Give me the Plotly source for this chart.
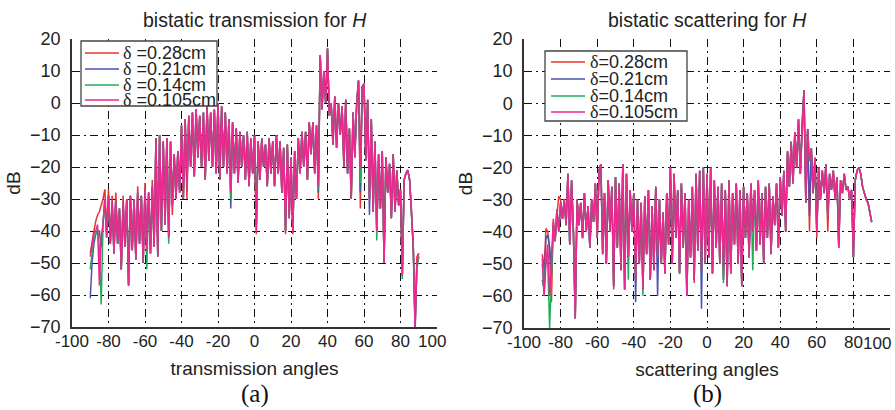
import plotly.graph_objects as go

# ---------------- data ----------------
angles = list(range(-90, 91))
x_ticks = [-100, -80, -60, -40, -20, 0, 20, 40, 60, 80, 100]
x_tick_text = ["-100", "-80", "-60", "-40", "-20", "0", "20", "40", "60", "80", "100"]
y_ticks = [-70, -60, -50, -40, -30, -20, -10, 0, 10, 20]
legend_labels = ["0.28cm", "0.21cm", "0.14cm", "0.105cm"]
series_colors = ["#e8322d", "#4a52b0", "#1fae57", "#ec2790"]

# (a) bistatic transmission, dB
trans_028 = [
    -47, -43, -40, -37, -35, -34, -32, -30, -27, -40,
    -27, -44, -29, -47, -28, -44, -33, -52, -29, -45,
    -30, -57, -29, -46, -30, -49, -26, -44, -29, -50,
    -25, -46, -28, -47, -24, -45, -11, -48, -10, -40,
    -12, -38, -11, -42, -12, -35, -16, -30, -15, -28,
    -7, -30, -5, -30, -4, -20, -3, -23, -2, -17,
    -4, -20, -3, -24, -1, -18, -3, -20, -2, -22,
    0, -24, -1, -20, -3, -22, -5, -28, -6, -22,
    -8, -25, -9, -20, -10, -24, -9, -26, -11, -22,
    -10, -41, -12, -24, -11, -20, -13, -26, -11, -22,
    -12, -26, -10, -22, -12, -28, -14, -41, -13, -36,
    -17, -41, -15, -30, -11, -22, -9, -20, -9, -24,
    -6, -16, -6, -22, -7, -30, 15, -2, 10, 0,
    17, -4, 0, -13, 2, -14, 0, -10, -1, -20,
    1, -22, -8, -30, -3, -17, 0, 7, -33, 5,
    6, -18, 1, -30, -5, -34, -12, -40, -16, -33,
    -15, -50, -17, -28, -19, -36, -16, -34, -21, -32,
    -27, -54, -24, -22, -21, -24, -33, -45, -70, -48,
    -47,
]
trans_021 = [
    -61, -50, -44, -41, -40, -40, -45, -38, -30, -42,
    -29, -44, -31, -47, -30, -44, -33, -52, -31, -45,
    -30, -57, -29, -46, -30, -49, -28, -44, -29, -50,
    -27, -46, -28, -47, -26, -45, -11, -48, -10, -40,
    -12, -38, -11, -42, -12, -32, -16, -30, -15, -28,
    -7, -30, -5, -26, -4, -20, -3, -23, -2, -17,
    -4, -20, -3, -24, -1, -18, -3, -20, -2, -22,
    0, -24, -1, -20, -3, -22, -5, -33, -6, -22,
    -8, -25, -9, -20, -10, -24, -9, -26, -11, -22,
    -10, -38, -12, -24, -11, -20, -13, -26, -11, -22,
    -12, -26, -10, -22, -12, -28, -14, -40, -13, -36,
    -17, -40, -15, -30, -11, -22, -9, -20, -9, -24,
    -6, -16, -6, -22, -7, -28, 15, -2, 10, 0,
    17, -4, 0, -13, 2, -14, 0, -10, -1, -20,
    1, -22, -8, -30, -3, -17, 0, 7, -28, 5,
    6, -18, 1, -35, -5, -34, -12, -40, -16, -33,
    -15, -50, -17, -28, -19, -36, -16, -34, -21, -32,
    -27, -52, -24, -22, -21, -24, -33, -45, -72, -50,
    -48,
]
trans_014 = [
    -52, -46, -42, -41, -40, -45, -63, -38, -30, -42,
    -29, -44, -31, -47, -30, -44, -33, -52, -31, -45,
    -30, -57, -29, -46, -30, -49, -28, -44, -29, -50,
    -27, -52, -28, -47, -26, -45, -11, -48, -10, -40,
    -12, -38, -11, -44, -12, -32, -16, -30, -15, -28,
    -7, -30, -5, -26, -4, -20, -3, -23, -2, -17,
    -4, -20, -3, -24, -1, -18, -3, -20, -2, -22,
    0, -24, -1, -20, -3, -22, -5, -30, -6, -22,
    -8, -25, -9, -20, -10, -24, -9, -26, -11, -22,
    -10, -38, -12, -24, -11, -20, -13, -26, -11, -22,
    -12, -26, -10, -22, -12, -28, -14, -40, -13, -36,
    -17, -40, -15, -30, -11, -22, -9, -20, -9, -24,
    -6, -16, -6, -22, -7, -27, 15, -2, 10, 0,
    17, -4, 0, -13, 2, -14, 0, -10, -1, -20,
    1, -22, -8, -30, -3, -17, 0, 7, -25, 5,
    6, -18, 1, -30, -5, -34, -12, -43, -16, -33,
    -15, -50, -17, -28, -19, -36, -16, -34, -21, -32,
    -27, -55, -24, -22, -21, -24, -33, -45, -68, -52,
    -48,
]
trans_0105 = [
    -48, -44, -41, -40, -38, -57, -42, -38, -30, -42,
    -29, -44, -31, -47, -30, -44, -33, -52, -31, -45,
    -30, -57, -29, -46, -30, -49, -28, -44, -29, -50,
    -27, -46, -28, -47, -26, -45, -11, -48, -10, -40,
    -12, -38, -11, -42, -12, -32, -16, -30, -15, -28,
    -7, -30, -5, -26, -4, -20, -3, -23, -2, -17,
    -4, -20, -3, -24, -1, -18, -3, -20, -2, -22,
    0, -24, -1, -20, -3, -22, -5, -28, -6, -22,
    -8, -25, -9, -20, -10, -24, -9, -26, -11, -22,
    -10, -40, -12, -24, -11, -20, -13, -26, -11, -22,
    -12, -26, -10, -22, -12, -28, -14, -40, -13, -36,
    -17, -40, -15, -30, -11, -22, -9, -20, -9, -24,
    -6, -16, -6, -22, -7, -26, 15, -2, 10, 0,
    17, -4, 0, -13, 2, -14, 0, -10, -1, -20,
    1, -22, -8, -30, -3, -17, 0, 7, -20, 5,
    6, -18, 1, -30, -5, -34, -12, -40, -16, -33,
    -15, -50, -17, -28, -19, -36, -16, -34, -21, -32,
    -27, -54, -24, -22, -21, -24, -33, -45, -70, -50,
    -47,
]

# (b) bistatic scattering, dB
scat_028 = [
    -47, -52, -39, -40, -45, -62, -36, -43, -35, -29,
    -30, -36, -30, -38, -22, -44, -24, -40, -67, -30,
    -38, -31, -42, -28, -40, -32, -45, -30, -37, -25,
    -42, -21, -19, -47, -28, -50, -24, -40, -26, -58,
    -23, -45, -25, -52, -19, -58, -22, -48, -27, -40,
    -28, -55, -30, -50, -31, -58, -29, -47, -27, -55,
    -32, -52, -26, -48, -30, -50, -34, -53, -28, -44,
    -20, -50, -22, -42, -27, -53, -25, -45, -28, -60,
    -30, -48, -26, -56, -22, -46, -21, -52, -20, -50,
    -22, -48, -20, -53, -24, -45, -26, -50, -25, -55,
    -27, -57, -24, -53, -28, -44, -25, -50, -27, -57,
    -26, -42, -28, -48, -25, -40, -27, -46, -24, -44,
    -28, -50, -26, -42, -25, -47, -29, -38, -25, -45,
    -23, -35, -21, -40, -15, -26, -12, -25, -9, -20,
    -5, -22, -6, 4, -31, -8, -40, -14, -28, -17,
    -42, -20, -30, -21, -28, -19, -40, -22, -27, -21,
    -30, -23, -45, -24, -28, -22, -27, -26, -30, -27,
    -48, -24, -21, -20, -22, -26, -28, -30, -31, -34,
    -37,
]
scat_021 = [
    -55, -58, -42, -41, -45, -52, -38, -43, -33, -40,
    -31, -36, -30, -38, -22, -44, -24, -40, -67, -30,
    -38, -31, -42, -28, -40, -32, -45, -30, -37, -25,
    -42, -21, -19, -47, -28, -50, -24, -40, -26, -57,
    -23, -45, -25, -52, -19, -58, -22, -48, -27, -40,
    -28, -62, -30, -50, -31, -58, -29, -47, -27, -55,
    -32, -52, -26, -60, -30, -50, -34, -53, -28, -44,
    -20, -50, -22, -42, -27, -53, -25, -45, -28, -60,
    -30, -48, -26, -55, -22, -46, -21, -64, -20, -50,
    -22, -48, -20, -53, -24, -45, -26, -50, -25, -55,
    -27, -57, -24, -53, -28, -44, -25, -50, -27, -57,
    -26, -42, -28, -48, -25, -40, -27, -46, -24, -44,
    -28, -50, -26, -42, -25, -47, -29, -38, -25, -45,
    -23, -35, -21, -40, -15, -26, -12, -25, -9, -20,
    -5, -22, -6, 4, -31, -8, -35, -14, -28, -17,
    -40, -20, -30, -21, -28, -19, -35, -22, -27, -21,
    -30, -23, -44, -24, -28, -22, -27, -26, -30, -27,
    -48, -24, -21, -20, -22, -26, -28, -30, -31, -34,
    -37,
]
scat_014 = [
    -50, -60, -47, -50, -70, -52, -38, -43, -33, -40,
    -31, -36, -30, -38, -22, -44, -24, -40, -67, -30,
    -38, -31, -42, -28, -40, -32, -45, -30, -37, -25,
    -42, -21, -19, -47, -28, -50, -24, -40, -26, -57,
    -23, -45, -25, -52, -19, -58, -22, -55, -27, -40,
    -28, -55, -30, -50, -31, -60, -29, -47, -27, -55,
    -32, -52, -26, -48, -30, -50, -34, -53, -28, -44,
    -20, -50, -22, -42, -27, -53, -25, -45, -28, -60,
    -30, -48, -26, -55, -22, -46, -21, -52, -20, -50,
    -22, -48, -20, -53, -24, -45, -26, -50, -25, -56,
    -27, -57, -24, -53, -28, -44, -25, -50, -27, -57,
    -26, -42, -28, -48, -25, -52, -27, -46, -24, -44,
    -28, -50, -26, -42, -25, -47, -29, -38, -25, -45,
    -23, -35, -21, -40, -15, -26, -12, -25, -9, -20,
    -5, -22, -6, 4, -31, -8, -18, -14, -28, -17,
    -40, -20, -30, -21, -28, -19, -35, -22, -27, -21,
    -30, -23, -45, -24, -28, -22, -27, -26, -30, -27,
    -48, -24, -21, -20, -22, -26, -28, -30, -31, -34,
    -37,
]
scat_0105 = [
    -48, -60, -50, -44, -60, -46, -37, -43, -33, -40,
    -31, -36, -30, -38, -22, -44, -24, -40, -67, -30,
    -38, -31, -42, -28, -40, -32, -45, -30, -37, -25,
    -42, -21, -19, -47, -28, -50, -24, -40, -26, -57,
    -23, -45, -25, -52, -19, -58, -22, -48, -27, -40,
    -28, -55, -30, -50, -31, -58, -29, -47, -27, -55,
    -32, -52, -26, -48, -30, -50, -34, -53, -28, -44,
    -20, -50, -22, -42, -27, -53, -25, -45, -28, -60,
    -30, -48, -26, -55, -22, -46, -21, -52, -20, -50,
    -22, -48, -20, -53, -24, -45, -26, -50, -25, -52,
    -27, -57, -24, -53, -28, -44, -25, -50, -27, -57,
    -26, -42, -28, -48, -25, -40, -27, -46, -24, -44,
    -28, -50, -26, -42, -25, -47, -29, -38, -25, -45,
    -23, -35, -21, -40, -15, -26, -12, -25, -9, -20,
    -5, -22, -6, 4, -31, -8, -18, -14, -28, -17,
    -40, -20, -30, -21, -28, -19, -35, -22, -27, -21,
    -30, -23, -45, -24, -28, -22, -27, -26, -30, -27,
    -48, -24, -21, -20, -22, -26, -28, -30, -31, -34,
    -37,
]

trans_series = [trans_028, trans_021, trans_014, trans_0105]
scat_series = [scat_028, scat_021, scat_014, scat_0105]

# ---------------- figure ----------------
W, H = 895, 410
def px(x):
    return x / W
def py(y):
    return 1 - y / H

FONT = "Liberation Sans, Arial, sans-serif"
SERIF = "Liberation Serif, Times New Roman, serif"
FIG_SPACE = "\u2007"
XTICK_SIZE = 17
YTICK_SIZE = 18

fig = go.Figure()
for i, ys in enumerate(trans_series):
    fig.add_trace(go.Scatter(x=angles, y=ys, mode="lines", xaxis="x", yaxis="y",
                             line=dict(color=series_colors[i], width=1.5),
                             name="δ=" + legend_labels[i], showlegend=False))
for i, ys in enumerate(scat_series):
    fig.add_trace(go.Scatter(x=angles, y=ys, mode="lines", xaxis="x2", yaxis="y2",
                             line=dict(color=series_colors[i], width=1.5),
                             name="δ=" + legend_labels[i], showlegend=False))

axis_common = dict(
    showgrid=True, gridcolor="#111", gridwidth=1, griddash="8px,4px,2px,4px",
    showline=True, linecolor="#333", linewidth=1.5, zeroline=False, ticks="",
    automargin=False,
)
# (a): last tick label sits a little left of the axis end, as in the original
xtext_a = x_tick_text[:-1] + [x_tick_text[-1] + FIG_SPACE]
# (b): last tick label is right-aligned to the axis end (added as text below)
xtext_b = x_tick_text[:-1] + [""]
xcommon = dict(axis_common, range=[-100, 100], tickvals=x_ticks, tickangle=0,
               ticklabelstandoff=-2, ticklabeloverflow="allow",
               tickfont=dict(family=FONT, size=XTICK_SIZE, color="#222"))
ycommon = dict(axis_common, range=[-70, 20], tickvals=y_ticks, ticklabelstandoff=6,
               tickfont=dict(family=FONT, size=YTICK_SIZE, color="#222"))

fig.update_layout(
    width=W, height=H, margin=dict(l=0, r=0, t=0, b=0),
    paper_bgcolor="white", plot_bgcolor="white",
    font=dict(family=FONT, color="#222"),
    xaxis=dict(xcommon, domain=[px(72), px(437)], anchor="y", ticktext=xtext_a,
               title=dict(text="transmission angles", font=dict(size=19), standoff=12)),
    yaxis=dict(ycommon, domain=[py(327), py(39)], anchor="x",
               title=dict(text="dB", font=dict(size=19), standoff=4)),
    xaxis2=dict(xcommon, domain=[px(524), px(890)], anchor="y2", ticktext=xtext_b,
                title=dict(text="scattering angles", font=dict(size=19), standoff=12)),
    yaxis2=dict(ycommon, domain=[py(328), py(39)], anchor="x2",
                title=dict(text="dB", font=dict(size=19), standoff=4)),
    showlegend=False,
)

fig.add_annotation(x=x_ticks[-1], xref="x2", y=py(343), yref="paper",
                   text=x_tick_text[-1], showarrow=False, xanchor="right",
                   yanchor="middle", xshift=3,
                   font=dict(family=FONT, size=XTICK_SIZE, color="#222"))

# titles and panel labels
for cx, title, lab in [((72 + 437) / 2, "bistatic transmission for <i>H</i>", "(a)"),
                       ((524 + 890) / 2, "bistatic scattering for <i>H</i>", "(b)")]:
    fig.add_annotation(x=px(cx), y=py(20), xref="paper", yref="paper", text=title,
                       showarrow=False, xanchor="center", yanchor="middle",
                       font=dict(family=FONT, size=19.5, color="#222"))
    fig.add_annotation(x=px(cx), y=py(394), xref="paper", yref="paper", text=lab,
                       showarrow=False, xanchor="center", yanchor="middle",
                       font=dict(family=SERIF, size=25, color="#111"))

# legends (drawn as boxes with sample lines)
def add_legend(box, line_x, text_x, rows, gap):
    fig.add_shape(type="rect", xref="paper", yref="paper",
                  x0=px(box[0]), x1=px(box[1]), y0=py(box[3]), y1=py(box[2]),
                  line=dict(color="#444", width=1.3), fillcolor="white", layer="above")
    for i, lab in enumerate(legend_labels):
        fig.add_shape(type="line", xref="paper", yref="paper",
                      x0=px(line_x[0]), x1=px(line_x[1]), y0=py(rows[i]), y1=py(rows[i]),
                      line=dict(color=series_colors[i], width=1.6), layer="above")
        fig.add_annotation(x=px(text_x), y=py(rows[i]), xref="paper", yref="paper",
                           text='<span style="font-family:Liberation Serif">δ</span>' + gap + "=" + lab,
                           showarrow=False, xanchor="left", yanchor="middle",
                           font=dict(family=FONT, size=18, color="#222"))

add_legend((81, 217, 41, 106), (85, 119), 121, [53, 69, 85, 100], " ")
add_legend((545, 687, 51, 121), (551, 585), 588, [62, 79, 96, 112], "")

fig.write_html("out.html")
